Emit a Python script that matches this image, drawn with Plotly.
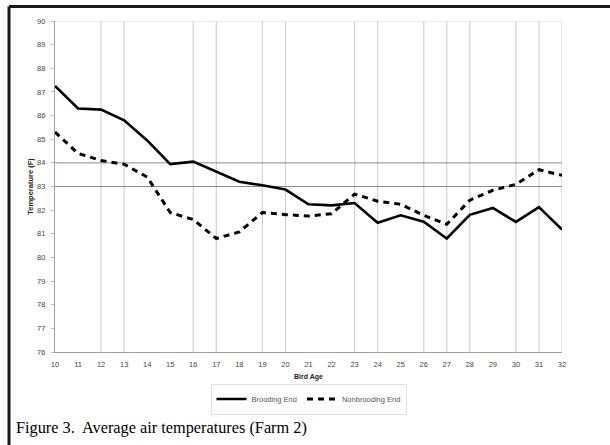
import plotly.graph_objects as go

bird_age = list(range(10, 33))
brooding_end = [87.25, 86.3, 86.25, 85.8, 84.95, 83.95, 84.05, 83.63, 83.2, 83.05, 82.87,
                82.25, 82.2, 82.3, 81.47, 81.78, 81.51, 80.8, 81.8, 82.09, 81.5, 82.13, 81.18]
nonbrooding_end = [85.3, 84.4, 84.1, 83.94, 83.4, 81.9, 81.6, 80.8, 81.08, 81.9, 81.81,
                   81.75, 81.85, 82.68, 82.38, 82.25, 81.78, 81.4, 82.42, 82.84, 83.09, 83.71, 83.47]
y_ticks = list(range(76, 91))
grid_x = [12, 13, 16, 17, 19, 20, 23, 24, 26, 27, 28, 30, 31, 32]
grid_y = [83, 84]

fig = go.Figure()
fig.add_trace(go.Scatter(x=bird_age, y=brooding_end, mode="lines", name="Brooding End",
                         line=dict(color="black", width=2.6)))
fig.add_trace(go.Scatter(x=bird_age, y=nonbrooding_end, mode="lines", name="Nonbrooding End",
                         line=dict(color="black", width=3, dash="6px,5px")))

shapes = []
for gx in grid_x:
    shapes.append(dict(type="line", xref="x", yref="y", x0=gx, x1=gx, y0=76, y1=90,
                       line=dict(color="#d4d0d0", width=1.2), layer="below"))
for gy in grid_y:
    shapes.append(dict(type="line", xref="x", yref="y", x0=10, x1=32, y0=gy, y1=gy,
                       line=dict(color="#908888", width=1), layer="below"))
# plot frame top
shapes.append(dict(type="line", xref="x", yref="y", x0=10, x1=32, y0=90, y1=90,
                   line=dict(color="#dcdcdc", width=1), layer="below"))
# outer black frame (top and left)
shapes.append(dict(type="line", xref="paper", yref="paper", x0=-0.0907, x1=1.2, y0=1.0438, y1=1.0438,
                   line=dict(color="#1a1a1a", width=3)))
shapes.append(dict(type="line", xref="paper", yref="paper", x0=-0.0907, x1=-0.0907, y0=1.0438, y1=-0.3,
                   line=dict(color="#1a1a1a", width=3)))

fig.update_layout(
    width=610, height=445,
    margin=dict(l=55, r=48, t=21, b=93),
    paper_bgcolor="white", plot_bgcolor="white",
    font=dict(family="Arial, Liberation Sans", size=7, color="#444"),
    shapes=shapes,
    showlegend=True,
    legend=dict(orientation="h", x=0.5, xanchor="center", y=-0.142, yanchor="middle",
                bordercolor="#e0e0e0", borderwidth=1, font=dict(size=7.5, color="#555"),
                itemwidth=30, tracegroupgap=0),
    xaxis=dict(range=[10, 32], tickvals=bird_age, ticktext=[str(v) for v in bird_age],
               showgrid=False, zeroline=False, showline=True, linecolor="#a89c98", linewidth=1.2,
               ticks="", ticklabelstandoff=5, tickfont=dict(size=7.5, color="#444"),
               title=dict(text="<b>Bird Age</b>", font=dict(size=7, color="#222"), standoff=6)),
    yaxis=dict(range=[76, 90], tickvals=y_ticks, showgrid=False, zeroline=False,
               showline=True, linecolor="#a89c98", linewidth=1.2,
               ticks="outside", ticklen=3, tickcolor="#c0b8b8", ticklabelstandoff=4,
               tickfont=dict(size=7.5, color="#444"),
               title=dict(text="<b>Temperature (F)</b>", font=dict(size=7.5, color="#222"), standoff=2)),
    annotations=[dict(text="Figure 3.  Average air temperatures (Farm 2)", xref="paper", yref="paper",
                      x=-0.081, y=-0.2296, xanchor="left", yanchor="middle", showarrow=False,
                      font=dict(family="Liberation Serif, Times New Roman", size=16.3, color="black"))],
)

fig.write_html("out.html", config={"displayModeBar": False},
               post_script="document.body.style.margin='0px';document.body.style.overflow='hidden';")
